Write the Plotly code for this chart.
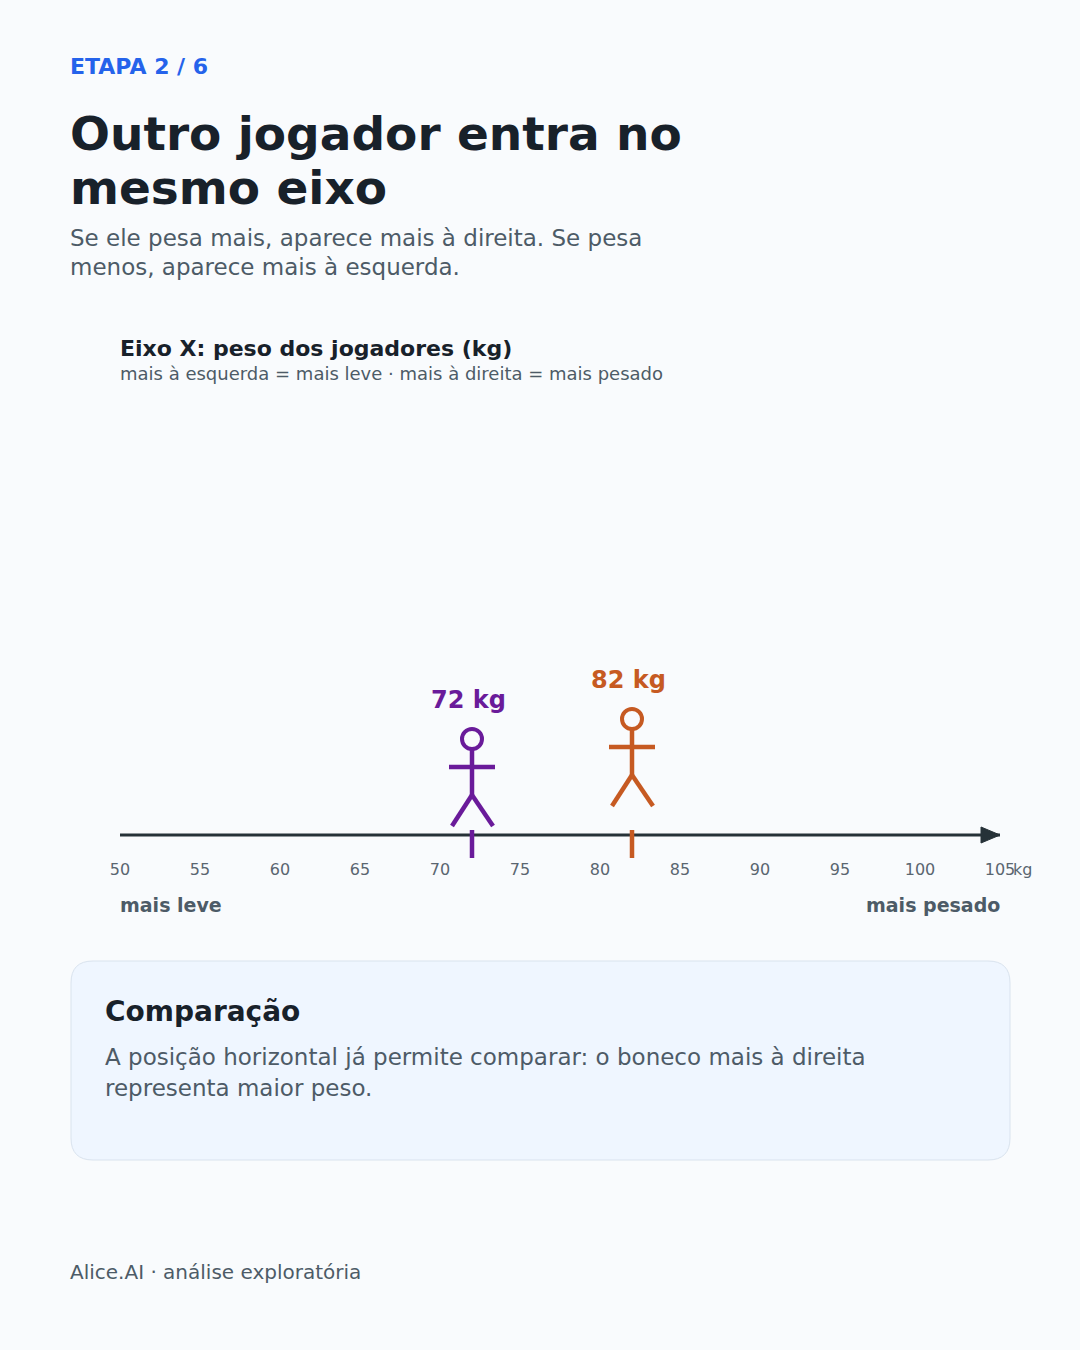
import plotly.graph_objects as go

# data
PLAYERS = ["Jogador 1", "Jogador 2"]
WEIGHTS = [72, 82]
PLAYER_COLORS = ["#6a1b9a", "#c65a22"]
TICK_VALUES = [50, 55, 60, 65, 70, 75, 80, 85, 90, 95, 100, 105]
TICK_LABELS = [str(v) for v in TICK_VALUES]
X_RANGE = [50, 105]

# style
W, H = 1080, 1350
BG = "#f9fbfd"
DARK = "#18212a"
GREY = "#4d5b67"
TICK_GREY = "#5a6670"
BLUE = "#2563eb"
AXIS = "#263238"
FONT = "DejaVu Sans"
AXIS_Y = 835           # page pixel row of the number line
FIG_LIFT = [0, 20]     # each figure is lifted a bit so labels do not collide

fig = go.Figure()

# invisible trace so the pixel axis pair exists
fig.add_trace(go.Scatter(x=[0, W], y=[0, H], xaxis="x2", yaxis="y",
                         mode="markers", marker=dict(opacity=0),
                         hoverinfo="skip", showlegend=False))

shapes = []
annotations = []


def txt(text, x, y, size, color, bold=False, xanchor="left", **kw):
    if bold:
        text = f"<b>{text}</b>"
    # annotations pad their text by ~2px, compensate
    x = x - 2 if xanchor == "left" else x + 2
    annotations.append(dict(
        text=text, x=x, y=y, xref="x2", yref="y", showarrow=False,
        xanchor=xanchor, yanchor="middle",
        font=dict(family=FONT, size=size, color=color), **kw))


# number line
shapes.append(dict(type="line", xref="x", yref="y", x0=X_RANGE[0], x1=X_RANGE[1],
                   y0=AXIS_Y, y1=AXIS_Y, line=dict(color=AXIS, width=3)))
shapes.append(dict(type="path", xref="x", yref="y", xsizemode="pixel", xanchor=X_RANGE[1],
                   ysizemode="pixel", yanchor=AXIS_Y,
                   path="M -19,-8 L 0,0 L -19,8 Z",
                   fillcolor=AXIS, line=dict(color=AXIS, width=1)))

# stick figures
for name, w, col, lift in zip(PLAYERS, WEIGHTS, PLAYER_COLORS, FIG_LIFT):
    base = 826 - lift  # feet
    lw = 4.5
    common = dict(xref="x", yref="y", xsizemode="pixel", xanchor=w,
                  line=dict(color=col, width=lw))
    # head
    shapes.append(dict(type="circle", x0=-10, x1=10, y0=base - 97, y1=base - 77,
                       **{**common, "line": dict(color=col, width=4)}))
    # body
    shapes.append(dict(type="line", x0=0, x1=0, y0=base - 77, y1=base - 31, **common))
    # arms
    shapes.append(dict(type="line", x0=-23, x1=23, y0=base - 59, y1=base - 59, **common))
    # legs
    shapes.append(dict(type="line", x0=0, x1=-20, y0=base - 31, y1=base, **common))
    shapes.append(dict(type="line", x0=0, x1=21, y0=base - 31, y1=base, **common))
    # marker on the axis
    shapes.append(dict(type="line", x0=0, x1=0, y0=AXIS_Y - 5, y1=AXIS_Y + 23, **common))
    annotations.append(dict(
        text=f"<b>{w} kg</b>", x=w, y=base - 126, xref="x", yref="y",
        xshift=-4, showarrow=False, xanchor="center", yanchor="middle",
        font=dict(family=FONT, size=24, color=col)))

# card
cx0, cx1, cy0, cy1, r = 71, 1010, 961, 1160, 22
card = (f"M {cx0 + r},{cy0} L {cx1 - r},{cy0} Q {cx1},{cy0} {cx1},{cy0 + r} "
        f"L {cx1},{cy1 - r} Q {cx1},{cy1} {cx1 - r},{cy1} L {cx0 + r},{cy1} "
        f"Q {cx0},{cy1} {cx0},{cy1 - r} L {cx0},{cy0 + r} Q {cx0},{cy0} {cx0 + r},{cy0} Z")
shapes.append(dict(type="path", xref="x2", yref="y", path=card,
                   fillcolor="#eff6ff", line=dict(color="#d9e3ee", width=1), layer="below"))

# texts
txt("ETAPA 2 / 6", 70, 66, 22, BLUE, bold=True)
txt("Outro jogador entra no", 70, 133, 47, DARK, bold=True)
txt("mesmo eixo", 70, 187, 47, DARK, bold=True)
txt("Se ele pesa mais, aparece mais à direita. Se pesa", 70, 238, 23, GREY)
txt("menos, aparece mais à esquerda.", 70, 267, 23, GREY)
txt("Eixo X: peso dos jogadores (kg)", 120, 348, 22, DARK, bold=True)
txt("mais à esquerda = mais leve · mais à direita = mais pesado", 120, 373, 18, GREY)
txt("kg", 1013, 869, 16, TICK_GREY)
txt("mais leve", 120, 905, 19, GREY, bold=True)
txt("mais pesado", 1000, 905, 19, GREY, bold=True, xanchor="right")
txt("Comparação", 105, 1011, 28, DARK, bold=True)
txt("A posição horizontal já permite comparar: o boneco mais à direita", 105, 1057, 23, GREY)
txt("representa maior peso.", 105, 1088, 23, GREY)
txt("Alice.AI · análise exploratória", 70, 1272, 20, GREY)

fig.update_layout(
    width=W, height=H,
    margin=dict(l=0, r=0, t=0, b=0, autoexpand=False),
    paper_bgcolor=BG, plot_bgcolor="rgba(0,0,0,0)",
    showlegend=False,
    shapes=shapes, annotations=annotations,
    xaxis=dict(domain=[120 / W, 1000 / W], range=X_RANGE, anchor="free",
               position=1 - 858 / H, tickvals=TICK_VALUES, ticktext=TICK_LABELS,
               showgrid=False, zeroline=False, showline=False, ticks="",
               automargin=False,
               tickfont=dict(family=FONT, size=16, color=TICK_GREY)),
    xaxis2=dict(domain=[0, 1], range=[0, W], visible=False, anchor="y", automargin=False),
    yaxis=dict(domain=[0, 1], range=[H, 0], visible=False, automargin=False),
)

fig.write_html("out.html", config={"displayModeBar": False},
               post_script="document.body.style.margin='0';document.body.style.background='%s';" % BG)
